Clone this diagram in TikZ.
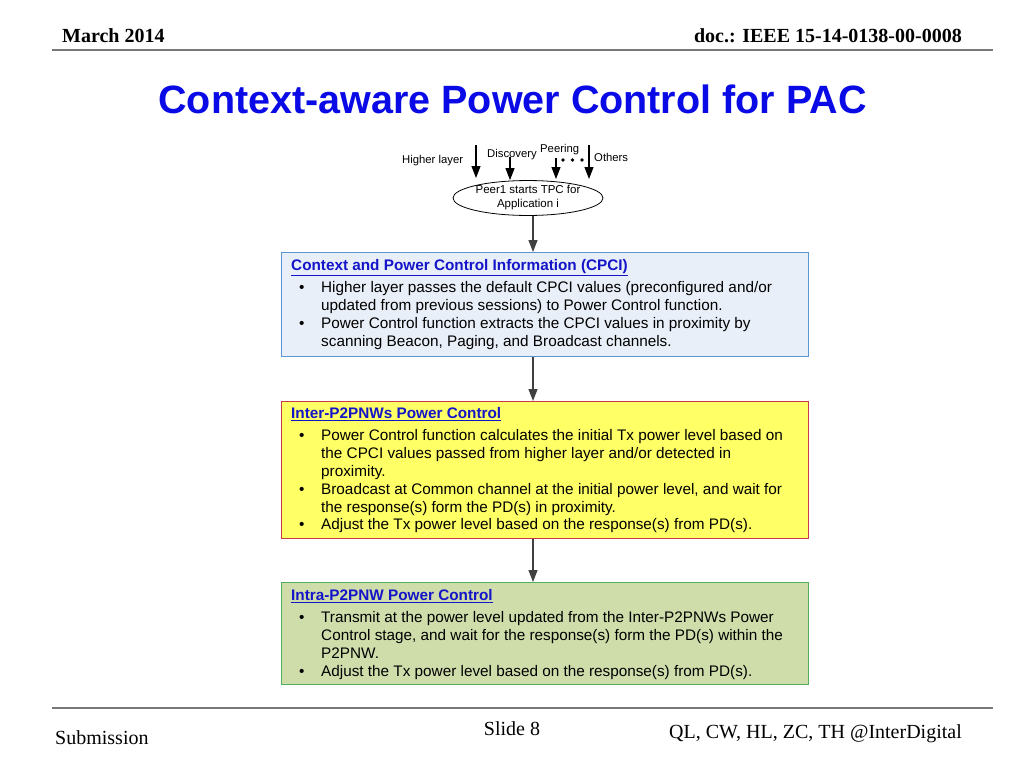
\documentclass[tikz,border=0pt]{standalone}
\usepackage{fontspec}
\setmainfont{Liberation Sans}
\newfontfamily\tms{Liberation Serif}
\usetikzlibrary{arrows.meta,shapes.geometric}
\definecolor{hdblue}{RGB}{20,20,200}
\definecolor{titleblue}{RGB}{10,10,230}
\definecolor{bxAfill}{RGB}{233,239,248}
\definecolor{bxAdraw}{RGB}{90,150,210}
\definecolor{bxBfill}{RGB}{255,255,102}
\definecolor{bxBdraw}{RGB}{200,60,70}
\definecolor{bxCfill}{RGB}{207,221,171}
\definecolor{bxCdraw}{RGB}{80,175,90}
\definecolor{rulegray}{RGB}{120,120,120}
\newcommand\hdtxt[1]{\textcolor{hdblue}{\underline{\textbf{#1}}}}
\newcommand\blt{\makebox[30pt][l]{\hspace*{8pt}\textbullet}}
\newcommand\ind{\hspace*{30pt}}
\begin{document}
\begin{tikzpicture}[x=1pt,y=-1pt,
  boxbase/.style={draw, line width=1pt, anchor=north west, minimum width=527pt, inner sep=0pt},
  btext/.style={anchor=base west, inner sep=0pt, font=\fontsize{15.3}{17.8}\selectfont},
  toparr/.style={-{Triangle[length=12pt,width=9pt]}, line width=1.1pt},
  midarr/.style={-{Triangle[length=12pt,width=9pt]}, line width=1.3pt, draw=black!75},
  lbl/.style={anchor=base west, inner sep=0pt, font=\fontsize{11.3}{13}\selectfont},
  hdr/.style={inner sep=0pt, font=\tms\fontsize{20}{22}\selectfont}]
\useasboundingbox[fill=white] (0,0) rectangle (1024,768);

% header / footer
\node[hdr, anchor=base west, font=\tms\bfseries\fontsize{20}{22}\selectfont] (date) at (62,43) {March 2014};
\node[hdr, anchor=base east, font=\tms\bfseries\fontsize{20}{22}\selectfont] (doc) at (962,43) {doc.: IEEE 15-14-0138-00-0008};
\coordinate (hl) at (52,50); \coordinate (hr) at (993,50);
\draw[rulegray, line width=2pt] (hl) -- (hr);
\coordinate (fl) at (52,708); \coordinate (fr) at (993,708);
\draw[rulegray, line width=2pt] (fl) -- (fr);
\node[hdr, anchor=base west] (sub) at (55,744) {Submission};
\node[hdr, anchor=base] (slide) at (512,735) {Slide 8};
\node[hdr, anchor=base east] (auth) at (962,738) {QL, CW, HL, ZC, TH @InterDigital};

% title
\node[anchor=base, inner sep=0pt, text=titleblue, font=\bfseries\fontsize{39.5}{42}\selectfont] (title) at (512.5,113) {Context-aware Power Control for PAC};

% ellipse
\node[ellipse, draw, line width=0.8pt, minimum width=150pt, minimum height=33pt, inner sep=0pt, align=center, font=\fontsize{11.5}{14}\selectfont] (ell) at (528,198) {Peer1 starts TPC for\\Application i};

% input arrows
\coordinate (s1) at (476,145);
\coordinate (s2) at (510,157);
\coordinate (s3) at (556,158);
\coordinate (s4) at (589,145);
\draw[toparr] (s1) -- ++(0,33);
\draw[toparr] (s2) -- (s2 |- ell.north);
\draw[toparr] (s3) -- ++(0,21);
\draw[toparr] (s4) -- ++(0,34);
\node[lbl] (lhl) at (402,163) {Higher layer};
\node[lbl] (ldis) at (487,157) {Discovery};
\node[lbl] (lpeer) at (540,152) {Peering};
\node[lbl] (loth) at (594,161) {Others};
\fill (563,160) circle (1.8pt) (572.5,160) circle (1.8pt) (582,160) circle (1.8pt);

% boxes
\node[boxbase, fill=bxAfill, draw=bxAdraw, minimum height=104pt] (b1) at (281,252) {};
\node[boxbase, fill=bxBfill, draw=bxBdraw, minimum height=137pt] (b2) at (281,401) {};
\node[boxbase, fill=bxCfill, draw=bxCdraw, minimum height=102pt] (b3) at (281,582) {};

\node[btext] (t1) at (291,270.5) {\begin{tabular}[t]{@{}l@{}}
\hdtxt{Context and Power Control Information (CPCI)}\\[4.5pt]
\blt Higher layer passes the default CPCI values (preconfigured and/or\\
\ind updated from previous sessions) to Power Control function.\\
\blt Power Control function extracts the CPCI values in proximity by\\
\ind scanning Beacon, Paging, and Broadcast channels.
\end{tabular}};

\node[btext] (t2) at (291,418.5) {\begin{tabular}[t]{@{}l@{}}
\hdtxt{Inter-P2PNWs Power Control}\\[4.5pt]
\blt Power Control function calculates the initial Tx power level based on\\
\ind the CPCI values passed from higher layer and/or detected in\\
\ind proximity.\\
\blt Broadcast at Common channel at the initial power level, and wait for\\
\ind the response(s) form the PD(s) in proximity.\\
\blt Adjust the Tx power level based on the response(s) from PD(s).
\end{tabular}};

\node[btext] (t3) at (291,600.5) {\begin{tabular}[t]{@{}l@{}}
\hdtxt{Intra-P2PNW Power Control}\\[4.5pt]
\blt Transmit at the power level updated from the Inter-P2PNWs Power\\
\ind Control stage, and wait for the response(s) form the PD(s) within the\\
\ind P2PNW.\\
\blt Adjust the Tx power level based on the response(s) from PD(s).
\end{tabular}};

% connectors
\coordinate (ax) at (533,0);
\draw[midarr] (ell.south -| ax) -- (b1.north -| ax);
\draw[midarr] (b1.south -| ax) -- (b2.north -| ax);
\draw[midarr] (b2.south -| ax) -- (b3.north -| ax);
\end{tikzpicture}
\end{document}
